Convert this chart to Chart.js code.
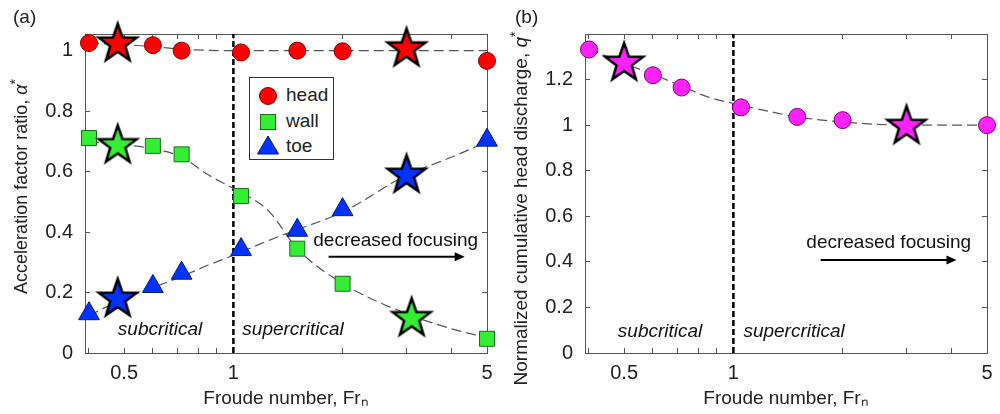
<!DOCTYPE html>
<html>
<head>
<meta charset="utf-8">
<script src="https://cdn.jsdelivr.net/npm/chart.js@4.4.0/dist/chart.umd.min.js"></script>
<style>
  body { margin: 0; background: #fff; width: 1000px; height: 414px; position: relative; overflow: hidden;
         font-family: "Liberation Sans", Arial, sans-serif; color: #222; }
  .panel { position: absolute; top: 0; width: 500px; height: 414px; }
  .tag { position: absolute; top: 6px; font-size: 19px; line-height: 22px; }
  #legendA { position: absolute; left: 249px; top: 77px; width: 83px; height: 81px; border: 1px solid #333; background: #fff; }
  #legendA svg { position: absolute; left: 6px; }
  #legendA span { position: absolute; left: 36px; font-size: 19px; line-height: 22px; }
</style>
</head>
<body>
<div class="panel" style="left:0"><canvas id="chartA" width="500" height="414"></canvas></div>
<div class="panel" style="left:500px"><canvas id="chartB" width="500" height="414"></canvas></div>
<div class="tag" style="left:13px">(a)</div>
<div class="tag" style="left:515px">(b)</div>
<div id="legendA">
  <svg width="24" height="24" style="top:6px"><circle cx="12" cy="12" r="8.5" fill="#ff0000" stroke="#8a0000" stroke-width="1"/></svg>
  <span style="top:6px">head</span>
  <svg width="24" height="24" style="top:32px"><rect x="4.5" y="4.5" width="15" height="15" fill="#33ee33" stroke="#1a6e1a" stroke-width="1"/></svg>
  <span style="top:32px">wall</span>
  <svg width="24" height="24" style="top:56px"><polygon points="12,2 22.5,20 1.5,20" fill="#0033ff" stroke="#001a80" stroke-width="1"/></svg>
  <span style="top:57px">toe</span>
</div>

<script>
// ---- panel (a): acceleration factor ratio ----
const frA = [0.4, 0.6, 0.72, 1.05, 1.5, 2, 5];
const headA = [1.025, 1.018, 1.0, 0.994, 1.0, 0.998, 0.966];
const wallA = [0.711, 0.685, 0.657, 0.519, 0.345, 0.229, 0.047];
const toeA = [0.13, 0.22, 0.264, 0.342, 0.406, 0.474, 0.704];

const headStarFr = [0.48, 3.0];
const headStar = [1.029, 1.013];
const wallStarFr = [0.48, 3.1];
const wallStar = [0.693, 0.121];
const toeStarFr = [0.48, 3.0];
const toeStar = [0.185, 0.595];

// dashed trend curves
const fitFr = [0.4, 0.5, 0.6, 0.72, 0.85, 1, 1.25, 1.5, 2, 3, 4, 5];
const headFit = [1.025, 1.02, 1.013, 1.005, 1.001, 1.0, 1.0, 1.0, 1.0, 1.0, 1.0, 1.0];
const wallFit = [0.70, 0.688, 0.676, 0.648, 0.59, 0.544, 0.47, 0.345, 0.23, 0.13, 0.08, 0.05];
const toeFit = [0.124, 0.18, 0.216, 0.253, 0.29, 0.323, 0.372, 0.408, 0.466, 0.588, 0.648, 0.698];

// ---- panel (b): normalized cumulative head discharge ----
const frB = [0.4, 0.6, 0.72, 1.05, 1.5, 2, 5];
const dischargeB = [1.332, 1.219, 1.165, 1.078, 1.036, 1.022, 1.0];
const dischargeStarFr = [0.5, 3.0];
const dischargeStar = [1.281, 1.004];
const dischargeFit = [1.335, 1.27, 1.224, 1.171, 1.124, 1.095, 1.061, 1.036, 1.014, 1.0, 1.0, 1.0];

// critical Froude number divider
const critFr = [1, 1];

// axes
const xMin = 0.39, xMax = 5;
const xTicks = [0.4, 0.5, 0.6, 0.7, 0.8, 0.9, 1, 2, 3, 4, 5];
const xTickLabels = ['', '0.5', '', '', '', '', '1', '', '', '', '5'];
const yMaxA = 1.055;
const yTicksA = [0, 0.2, 0.4, 0.6, 0.8, 1];
const yTickLabelsA = ['0', '0.2', '0.4', '0.6', '0.8', '1'];
const yMaxB = 1.4;
const yTicksB = [0, 0.2, 0.4, 0.6, 0.8, 1, 1.2];
const yTickLabelsB = ['0', '0.2', '0.4', '0.6', '0.8', '1', '1.2'];

// y titles: plain part, italic symbol, superscript
const yTitleA = ['Acceleration factor ratio, ', 'α', '*'];
const yTitleB = ['Normalized cumulative head discharge, ', 'q', '*'];

// annotations
const noteText = ['subcritical', 'supercritical', 'decreased focusing'];
const noteItalic = [true, true, false];
const noteFrA = [0.628, 1.46, 2.8];
const noteYA = [0.076, 0.076, 0.371];
const arrowFrA = [1.83, 4.34];
const arrowYA = [0.318, 0.318];
const noteFrB = [0.628, 1.47, 2.68];
const noteYB = [0.093, 0.093, 0.482];
const arrowFrB = [1.74, 4.12];
const arrowYB = [0.408, 0.408];

const FONT = '"Liberation Sans", Arial, sans-serif';
Chart.defaults.font.family = FONT;
Chart.defaults.color = '#222';

const pts = (xs, ys) => xs.map((x, i) => ({ x: x, y: ys[i] }));

/**
 * Filled five-point star used as a marker image
 */
function starImage(fill) {
  const c = document.createElement('canvas');
  c.width = 48;
  c.height = 48;
  const g = c.getContext('2d');
  g.beginPath();
  for (let i = 0; i < 10; i++) {
    const r = i % 2 ? 8 : 20;
    const a = -Math.PI / 2 + i * Math.PI / 5;
    g.lineTo(24 + r * Math.cos(a), 25.9 + r * Math.sin(a));
  }
  g.closePath();
  g.fillStyle = fill;
  g.fill();
  g.lineWidth = 2.5;
  g.lineJoin = 'miter';
  g.strokeStyle = '#000';
  g.stroke();
  return c;
}

function markers(label, xs, ys, style, radius, fill, edge) {
  return {
    type: 'scatter', label: label, data: pts(xs, ys), order: 2, clip: false,
    pointStyle: style, pointRadius: radius, backgroundColor: fill,
    borderColor: edge, borderWidth: 1
  };
}

function stars(label, xs, ys, fill) {
  return {
    type: 'scatter', label: label, data: pts(xs, ys), order: 1, clip: false,
    pointStyle: starImage(fill), pointRadius: 20
  };
}

function trend(ys) {
  return {
    type: 'line', data: pts(fitFr, ys), order: 5, clip: false,
    borderColor: '#555', borderWidth: 1.2, borderDash: [10, 5],
    pointRadius: 0, fill: false, cubicInterpolationMode: 'monotone'
  };
}

function divider(yMax) {
  return {
    type: 'line', data: pts(critFr, [0, yMax]), order: 6,
    borderColor: '#000', borderWidth: 2.5, borderDash: [6, 3], pointRadius: 0, fill: false
  };
}

/**
 * Rotated y title with italic symbol, plus text labels and the arrow in data coordinates
 */
function notesPlugin(title, titleSize, titleShift, noteFr, noteY, arrowFr, arrowY) {
  return {
    id: 'notes',
    beforeDatasetsDraw(chart) {
      const { ctx, chartArea, scales: { x, y } } = chart;
      ctx.save();
      ctx.fillStyle = '#222';

      // y axis title
      const fonts = [titleSize + 'px ' + FONT, 'italic ' + titleSize + 'px ' + FONT, Math.round(titleSize * 0.75) + 'px ' + FONT];
      const widths = title.map((t, i) => { ctx.font = fonts[i]; return ctx.measureText(t).width; });
      const total = widths.reduce((a, b) => a + b, 0);
      ctx.save();
      ctx.translate(22, (chartArea.top + chartArea.bottom) / 2 + titleShift);
      ctx.rotate(-Math.PI / 2);
      ctx.textAlign = 'left';
      ctx.textBaseline = 'middle';
      let pos = -total / 2;
      title.forEach((t, i) => {
        ctx.font = fonts[i];
        ctx.fillText(t, pos, i === 2 ? -titleSize * 0.3 : 0);
        pos += widths[i];
      });
      ctx.restore();

      ctx.fillStyle = '#111';
      ctx.textAlign = 'center';
      ctx.textBaseline = 'middle';
      noteText.forEach((t, i) => {
        ctx.font = (noteItalic[i] ? 'italic ' : '') + '19px ' + FONT;
        ctx.fillText(t, x.getPixelForValue(noteFr[i]), y.getPixelForValue(noteY[i]));
      });
      const x1 = x.getPixelForValue(arrowFr[0]);
      const x2 = x.getPixelForValue(arrowFr[1]);
      const ay = y.getPixelForValue(arrowY[0]);
      ctx.strokeStyle = '#000';
      ctx.lineWidth = 2;
      ctx.beginPath();
      ctx.moveTo(x1, ay);
      ctx.lineTo(x2 - 8, ay);
      ctx.stroke();
      ctx.beginPath();
      ctx.moveTo(x2, ay);
      ctx.lineTo(x2 - 10, ay - 4.5);
      ctx.lineTo(x2 - 10, ay + 4.5);
      ctx.closePath();
      ctx.fillStyle = '#000';
      ctx.fill();
      ctx.restore();
    }
  };
}

function panelOptions(yMax, yTicks, yLabels) {
  const edge = { color: '#555', width: 1 };
  const inward = { drawOnChartArea: false, tickLength: -5, color: '#555' };
  return {
    responsive: false,
    animation: false,
    events: [],
    layout: { autoPadding: false, padding: { left: 0, right: 13, top: 34, bottom: 0 } },
    plugins: { legend: { display: false }, tooltip: { enabled: false } },
    scales: {
      x: {
        type: 'logarithmic', position: 'bottom', min: xMin, max: xMax,
        afterBuildTicks: s => { s.ticks = xTicks.map(v => ({ value: v })); },
        afterFit: s => { s.height = 61; s.paddingLeft = 0; s.paddingRight = 0; },
        ticks: { autoSkip: false, maxRotation: 0, padding: 13, font: { size: 20 }, color: '#222',
                 callback: (v, i) => xTickLabels[i] },
        grid: inward,
        border: edge,
        title: { display: true, text: 'Froude number, Frₙ', font: { size: 19 }, color: '#222',
                 padding: { top: 0, bottom: 4 } }
      },
      x2: {
        type: 'logarithmic', position: 'top', min: xMin, max: xMax,
        afterBuildTicks: s => { s.ticks = xTicks.map(v => ({ value: v })); },
        afterFit: s => { s.height = 0; s.paddingLeft = 0; s.paddingRight = 0; },
        ticks: { display: false, autoSkip: false },
        grid: inward,
        border: edge
      },
      y: {
        type: 'linear', position: 'left', min: 0, max: yMax,
        afterBuildTicks: s => { s.ticks = yTicks.map(v => ({ value: v })); },
        afterFit: s => { s.width = 85; s.paddingTop = 0; s.paddingBottom = 0; },
        ticks: { padding: 17, font: { size: 20 }, color: '#222', callback: (v, i) => yLabels[i] },
        grid: inward,
        border: edge
      },
      y2: {
        type: 'linear', position: 'right', min: 0, max: yMax,
        afterBuildTicks: s => { s.ticks = yTicks.map(v => ({ value: v })); },
        afterFit: s => { s.width = 0; s.paddingTop = 0; s.paddingBottom = 0; },
        ticks: { display: false },
        grid: inward,
        border: edge
      }
    }
  };
}

new Chart(document.getElementById('chartA'), {
  type: 'scatter',
  data: {
    datasets: [
      stars('head star', headStarFr, headStar, '#ff0000'),
      stars('wall star', wallStarFr, wallStar, '#33ee33'),
      stars('toe star', toeStarFr, toeStar, '#0033ff'),
      markers('head', frA, headA, 'circle', 8.5, '#ff0000', '#8a0000'),
      markers('wall', frA, wallA, 'rect', 10.6, '#33ee33', '#1a6e1a'),
      markers('toe', frA, toeA, 'triangle', 12, '#0033ff', '#001a80'),
      trend(headFit),
      trend(wallFit),
      trend(toeFit),
      divider(yMaxA)
    ]
  },
  options: panelOptions(yMaxA, yTicksA, yTickLabelsA),
  plugins: [notesPlugin(yTitleA, 18, -7, noteFrA, noteYA, arrowFrA, arrowYA)]
});

new Chart(document.getElementById('chartB'), {
  type: 'scatter',
  data: {
    datasets: [
      stars('discharge star', dischargeStarFr, dischargeStar, '#ff22ff'),
      markers('discharge', frB, dischargeB, 'circle', 8.5, '#ff22ff', '#7a007a'),
      trend(dischargeFit),
      divider(yMaxB)
    ]
  },
  options: panelOptions(yMaxB, yTicksB, yTickLabelsB),
  plugins: [notesPlugin(yTitleB, 19, 15, noteFrB, noteYB, arrowFrB, arrowYB)]
});
</script>
</body>
</html>
